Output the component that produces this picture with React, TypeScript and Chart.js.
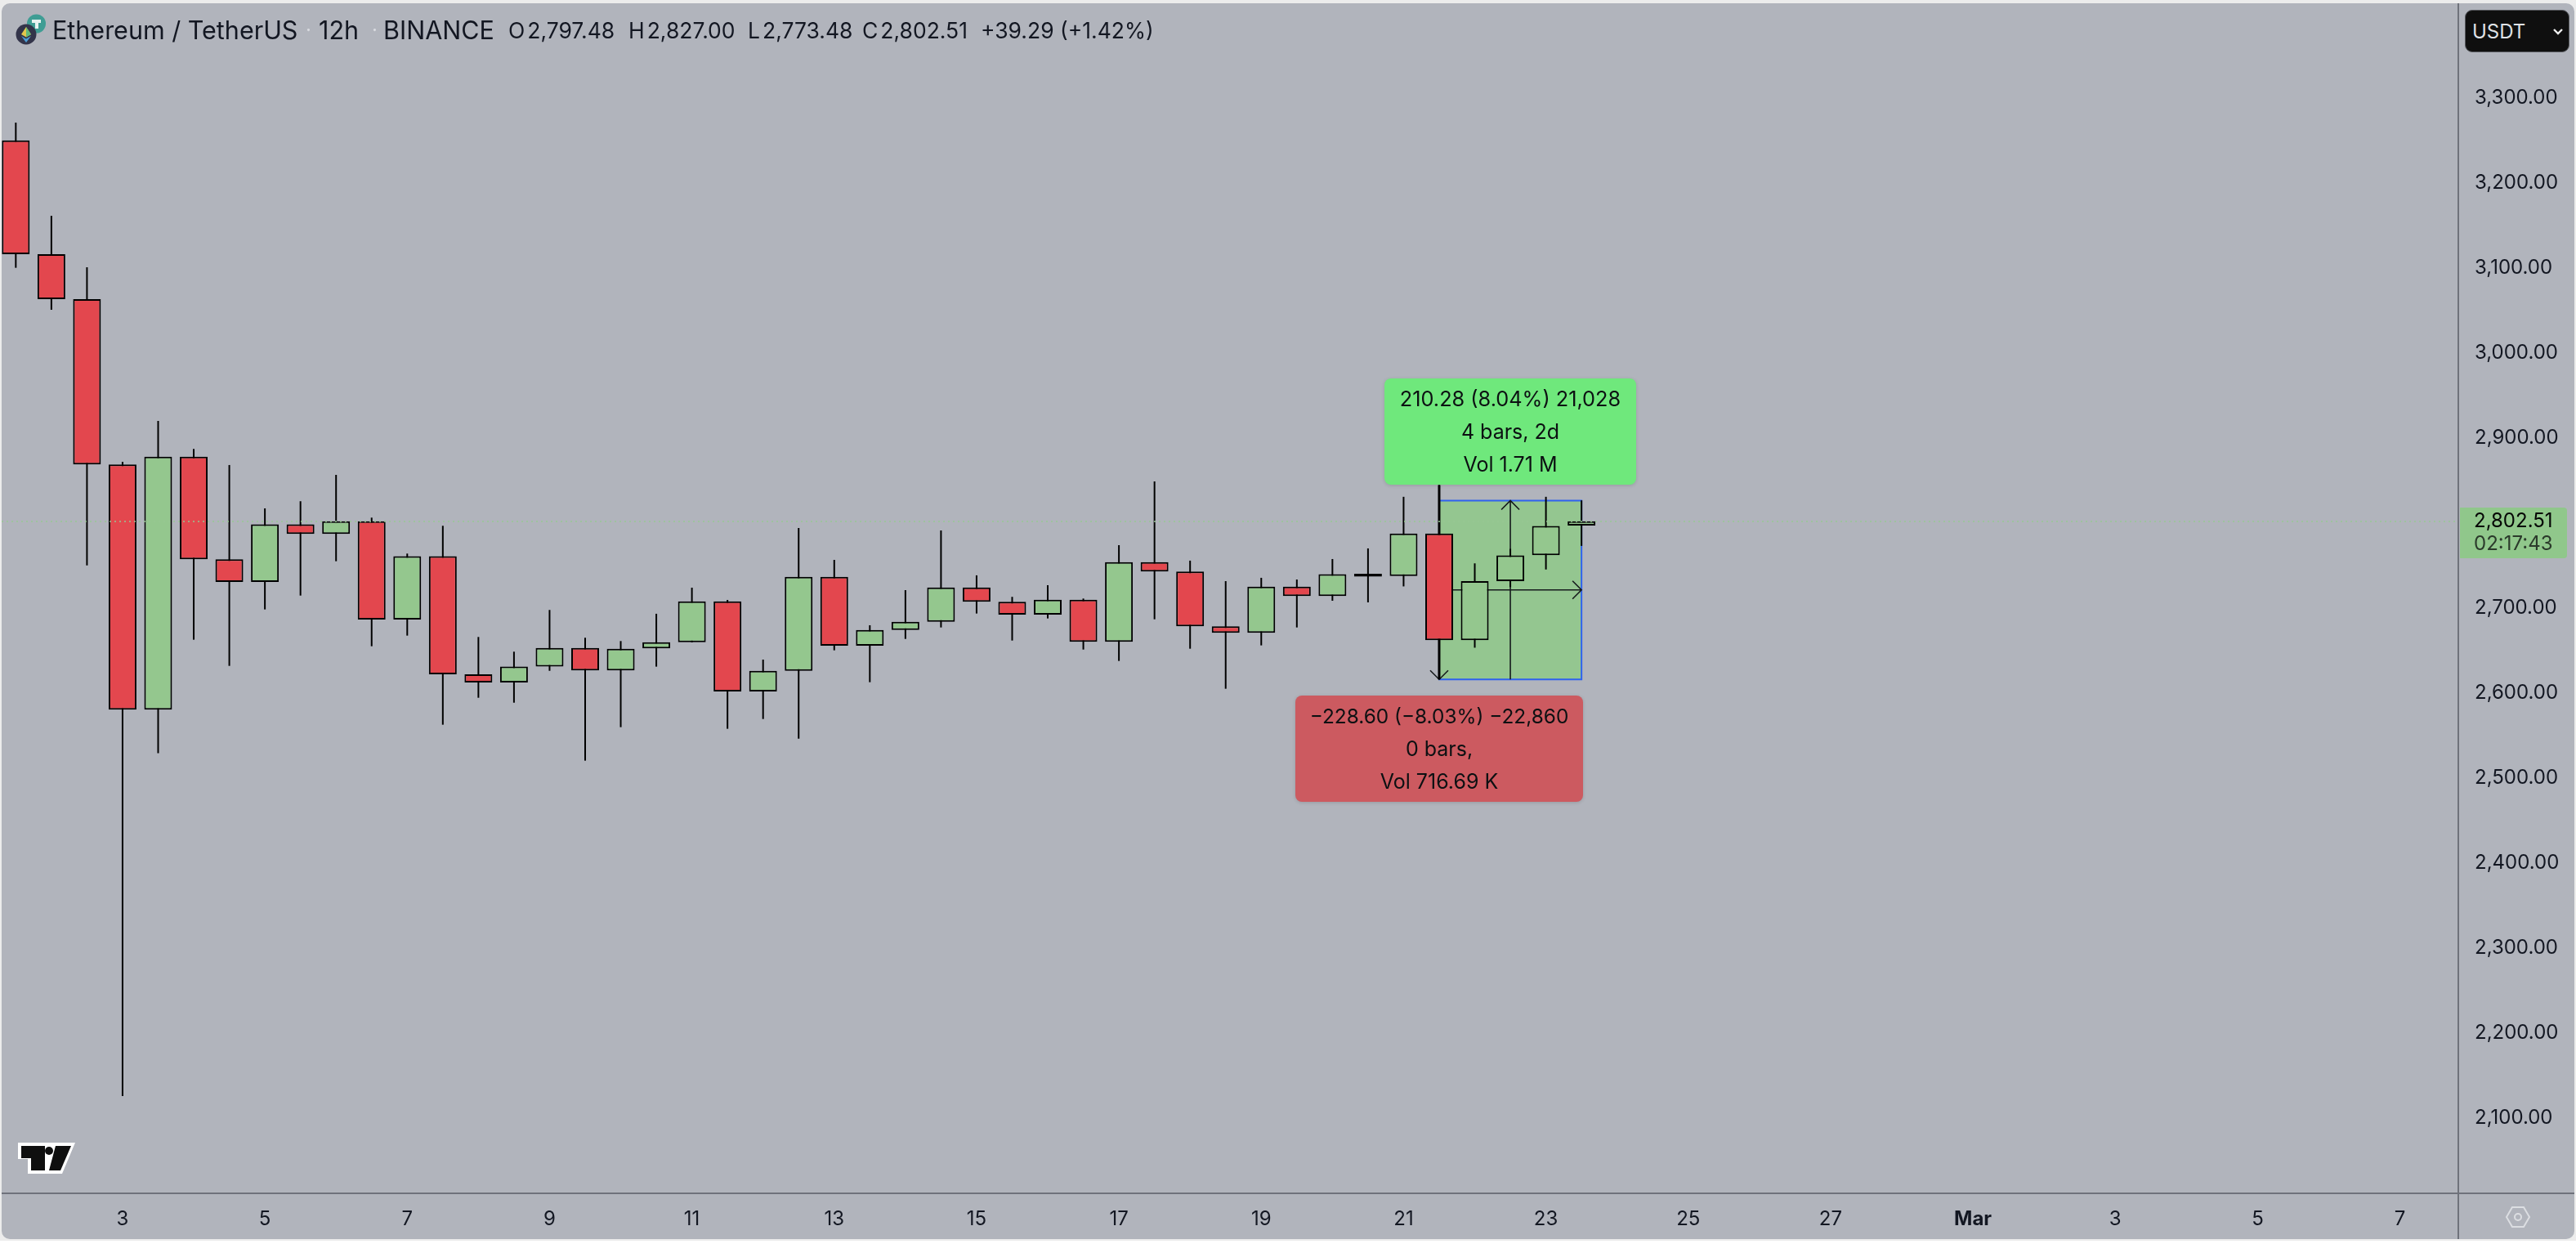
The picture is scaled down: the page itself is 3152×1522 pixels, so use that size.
import React, { useEffect, useRef } from "react";
import { Chart, registerables } from "chart.js";

Chart.register(...registerables);

const opens = [3250.6,3116.6,3063.7,2869.2,2580.8,2878.5,2757.7,2731.1,2798.7,2787.5,2802.5,2686.8,2761.2,2622.4,2612.8,2631.4,2653.5,2626.9,2652.9,2660.2,2708.3,2602.2,2626.5,2737.1,2656.1,2674.6,2684.2,2724.6,2707.7,2692.6,2710.2,2660.6,2754.4,2743.3,2678.9,2671.2,2725.6,2714.4,2740.7,2738.0,2787.9,2662.6,2732.0,2762.5,2797.48];
const closes = [3116.6,3063.7,2869.2,2580.8,2878.5,2757.7,2731.1,2798.7,2787.5,2802.5,2686.8,2761.2,2622.4,2612.8,2631.4,2653.5,2626.9,2652.5,2660.2,2708.3,2602.2,2626.5,2737.1,2656.1,2674.6,2684.2,2724.6,2707.7,2692.6,2710.2,2660.6,2754.4,2743.3,2678.9,2671.2,2725.6,2714.4,2740.2,2737.2,2787.9,2662.6,2732.0,2762.2,2796.8,2802.51];
const highs = [3271.4,3161.8,3101.2,2872.4,2920.5,2887.5,2868.6,2817.6,2826.0,2857.0,2806.7,2764.4,2797.1,2666.3,2649.0,2698.1,2665.4,2661.5,2693.6,2724.3,2709.9,2639.7,2794.5,2757.0,2680.1,2721.4,2791.6,2738.8,2713.5,2727.2,2711.5,2774.3,2849.3,2756.1,2732.0,2735.9,2733.9,2758.0,2770.5,2831.2,2845.0,2752.9,2770.0,2831.2,2827.0];
const lows = [3100.6,3051.2,2750.6,2126.3,2529.5,2663.1,2632.3,2698.7,2715.0,2755.4,2655.4,2667.9,2563.1,2594.8,2589.0,2626.5,2520.8,2560.2,2631.4,2660.0,2558.3,2569.8,2546.7,2650.6,2613.1,2664.0,2677.5,2693.9,2662.1,2688.1,2651.5,2638.1,2687.1,2652.5,2605.4,2656.4,2677.5,2708.9,2707.0,2725.8,2616.4,2653.7,2725.0,2745.7,2773.48];

const priceTicks = [3300,3200,3100,3000,2900,2800,2700,2600,2500,2400,2300,2200,2100];
const dateTickBars = [3,7,11,15,19,23,27,31,35,39,43,47,51,55,59,63,67];
const dateTickLabels = ["3","5","7","9","11","13","15","17","19","21","23","25","27","Mar","3","5","7"];

const lastPrice = 2802.51;
const measureStartBar = 40;
const measureMidBar = 42;
const measureEndBar = 44;
const measureHigh = 2826.7;
const measureLow = 2616.4;
const measureMid = 2721.6;
const measureWickTop = 2845;

const BG = "#b1b4bc";
const RED = "#e3474e";
const GREEN = "#94c78e";
const AXIS = "#6f727b";
const TEXT = "#131722";
const FONT = "Inter, 'Noto Sans', sans-serif";

const noPadding = (axis: any) => {
  axis.paddingTop = 0; axis.paddingBottom = 0; axis.paddingLeft = 0; axis.paddingRight = 0;
};

const overlayPlugin = {
  id: "overlay",
  beforeDatasetsDraw(chart: any) {
    const { ctx, scales } = chart;
    const x = scales.x, y = scales.y;
    const xs = x.getPixelForValue(measureStartBar), xm = x.getPixelForValue(measureMidBar), xe = x.getPixelForValue(measureEndBar);
    const yh = y.getPixelForValue(measureHigh), yl = y.getPixelForValue(measureLow), ym = y.getPixelForValue(measureMid);
    ctx.save();
    ctx.fillStyle = "#94c690";
    ctx.fillRect(xs, yh, xe - xs, yl - yh);
    ctx.strokeStyle = "#2f62ee";
    ctx.lineWidth = 2;
    ctx.beginPath();
    ctx.moveTo(xs, yh); ctx.lineTo(xe, yh); ctx.lineTo(xe, yl); ctx.lineTo(xs - 1, yl);
    ctx.stroke();
    ctx.strokeStyle = "#161a1c";
    ctx.lineWidth = 1.6;
    const head = 11;
    ctx.beginPath();
    ctx.moveTo(xs, ym); ctx.lineTo(xe, ym);
    ctx.moveTo(xe - head, ym - head); ctx.lineTo(xe, ym); ctx.lineTo(xe - head, ym + head);
    ctx.moveTo(xm, yl); ctx.lineTo(xm, yh);
    ctx.moveTo(xm - head, yh + head); ctx.lineTo(xm, yh); ctx.lineTo(xm + head, yh + head);
    ctx.moveTo(xs - head, yl - head); ctx.lineTo(xs, yl); ctx.lineTo(xs + head, yl - head);
    ctx.stroke();
    ctx.strokeStyle = "#000";
    ctx.lineWidth = 3;
    ctx.beginPath();
    ctx.moveTo(xs, y.getPixelForValue(measureWickTop)); ctx.lineTo(xs, yl);
    ctx.stroke();
    ctx.restore();
  },
  afterDatasetsDraw(chart: any) {
    const { ctx, scales, chartArea } = chart;
    const py = Math.round(scales.y.getPixelForValue(lastPrice));
    ctx.save();
    ctx.strokeStyle = "#96c893";
    ctx.lineWidth = 1.6;
    ctx.setLineDash([2, 4]);
    ctx.beginPath();
    ctx.moveTo(chartArea.left, py);
    ctx.lineTo(chartArea.right - 4, py);
    ctx.stroke();
    ctx.setLineDash([]);
    ctx.strokeStyle = AXIS;
    ctx.lineWidth = 2;
    ctx.beginPath();
    ctx.moveTo(chartArea.right, chartArea.top);
    ctx.lineTo(chartArea.right, 1516);
    ctx.moveTo(chartArea.left, chartArea.bottom);
    ctx.lineTo(3150, chartArea.bottom);
    ctx.stroke();
    ctx.restore();
  },
};

const abs = (left: number, top: number, extra: any = {}) => ({
  position: "absolute" as const, left, top, whiteSpace: "nowrap" as const, ...extra,
});

function Txt({ x, cy, size, color = TEXT, children, weight = 400 }: any) {
  return (
    <span style={abs(x, cy - 20, { height: 40, lineHeight: "40px", fontSize: size, color, fontFamily: FONT, fontWeight: weight })}>{children}</span>
  );
}

function Ohlc({ x, letter, value }: any) {
  return (
    <Txt x={x} cy={37} size={26.5}>
      {letter}
      <span style={{ marginLeft: 3 }}>{value}</span>
    </Txt>
  );
}

function Box({ l, t, w, h, bg, lines, sizes }: any) {
  const step = (h - 50) / 2;
  return (
    <div style={abs(l, t, { width: w, height: h, background: bg, borderRadius: 8, boxShadow: "0 1px 4px rgba(0,0,0,.15)" })}>
      {lines.map((s: string, i: number) => (
        <div key={i} style={{ position: "absolute", left: 0, width: w, top: 5 + i * step, height: 40, lineHeight: "40px", textAlign: "center", fontFamily: FONT, fontSize: sizes[i], color: "#0c1012" }}>{s}</div>
      ))}
    </div>
  );
}

export default function App() {
  const ref = useRef<HTMLCanvasElement>(null);
  useEffect(() => {
    document.body.style.margin = "0";
    document.body.style.background = "#fff";
    const chart = new Chart(ref.current as HTMLCanvasElement, {
      type: "bar",
      plugins: [overlayPlugin],
      data: {
        datasets: [
          {
            label: "wick",
            order: 2,
            grouped: false,
            barThickness: 2,
            backgroundColor: "#000",
            borderWidth: 0,
            inflateAmount: 0,
            data: highs.map((h, i) => ({ x: i, y: [lows[i], h] })),
          },
          {
            label: "body",
            order: 1,
            grouped: false,
            barThickness: 34,
            backgroundColor: opens.map((o, i) => (closes[i] >= o ? GREEN : RED)),
            borderColor: "#000",
            borderWidth: 2,
            borderSkipped: false,
            inflateAmount: 0,
            data: opens.map((o, i) => ({ x: i, y: [o, closes[i]] })),
          },
        ] as any,
      },
      options: {
        responsive: false,
        animation: false,
        events: [],
        layout: { padding: { left: 2, top: 4, right: 0, bottom: 0 } },
        plugins: { legend: { display: false }, tooltip: { enabled: false }, title: { display: false } },
        scales: {
          x: {
            type: "linear",
            min: -0.398,
            max: 68.64,
            offset: false,
            grid: { display: false },
            border: { display: false },
            afterBuildTicks: (axis: any) => { axis.ticks = dateTickBars.map((value) => ({ value })); },
            afterFit: (axis: any) => { axis.height = 62; noPadding(axis); },
            ticks: {
              autoSkip: false,
              maxRotation: 0,
              padding: 9,
              color: TEXT,
              font: (c: any) => ({ family: FONT, size: 24, weight: dateTickLabels[dateTickBars.indexOf(c.tick?.value)] === "Mar" ? "bold" : "normal" }),
              callback: (v: any) => dateTickLabels[dateTickBars.indexOf(v)],
            },
          },
          y: {
            type: "linear",
            position: "right",
            min: 2011.8,
            max: 3411.8,
            grid: { display: false },
            border: { display: false },
            afterBuildTicks: (axis: any) => { axis.ticks = priceTicks.map((value) => ({ value })); },
            afterFit: (axis: any) => { axis.width = 144; noPadding(axis); },
            ticks: {
              autoSkip: false,
              padding: 12,
              color: TEXT,
              font: { family: FONT, size: 24 },
              callback: (v: any) => Number(v).toLocaleString("en-US", { minimumFractionDigits: 2, maximumFractionDigits: 2 }),
            },
          },
        },
      } as any,
    });
    return () => chart.destroy();
  }, []);

  return (
    <div style={abs(0, 0, { width: 3152, height: 1522, background: "#fff", overflow: "hidden" })}>
      <div style={abs(0, 0, { width: 3152, height: 1518, background: "#ececec" })} />
      <div style={abs(2, 4, { width: 3148, height: 1512, background: BG, borderRadius: 10 })} />
      <canvas ref={ref} width={3152} height={1522} style={abs(0, 0, { display: "block" })} />

      <svg width={70} height={70} style={abs(10, 10)} viewBox="10 10 70 70">
        <circle cx={44.5} cy={29} r={11.5} fill="#3f9d94" />
        <rect x={39} y={24} width={11} height={4} fill="#e8f3f1" />
        <rect x={43} y={24} width={4} height={11} fill="#e8f3f1" />
        <circle cx={32} cy={42} r={12.5} fill="#33344a" />
        <polygon points="32,33 38,42 32,45.5 26,42" fill="#e2c64c" />
        <polygon points="32,33 38,42 32,45.5" fill="#5fb87a" />
        <polygon points="26,44 32,47.5 38,44 32,52" fill="#4c9fd6" />
      </svg>

      <Txt x={64} cy={37} size={30.5}>Ethereum / TetherUS</Txt>
      <Txt x={374} cy={37} size={24} color="#d9dbe0">·</Txt>
      <Txt x={390} cy={37} size={30.5}>12h</Txt>
      <Txt x={455} cy={37} size={24} color="#d9dbe0">·</Txt>
      <Txt x={469} cy={37} size={30.5}>BINANCE</Txt>
      <Ohlc x={622} letter="O" value="2,797.48" />
      <Ohlc x={769} letter="H" value="2,827.00" />
      <Ohlc x={915} letter="L" value="2,773.48" />
      <Ohlc x={1055} letter="C" value="2,802.51" />
      <Txt x={1200} cy={37} size={26.5}>+39.29 (+1.42%)</Txt>

      <div style={abs(3016, 12, { width: 126, height: 50, background: "#0f0f0f", border: "1px solid #55575c", borderRadius: 9 })}>
        <span style={abs(8, 6, { lineHeight: "40px", fontFamily: FONT, fontSize: 24, color: "#dfe1e5" })}>USDT</span>
        <svg width={14} height={10} style={abs(106, 21)} viewBox="0 0 14 10"><path d="M2 2 L7 7 L12 2" stroke="#eee" strokeWidth={2.4} fill="none" /></svg>
      </div>

      <div style={abs(3010, 621, { width: 131, height: 62, background: "#90c78b", borderRadius: "0 4px 4px 0" })}>
        <div style={{ position: "absolute", left: 17, top: -4, lineHeight: "40px", fontFamily: FONT, fontSize: 24, color: "#050505" }}>2,802.51</div>
        <div style={{ position: "absolute", left: 17, top: 24, lineHeight: "40px", fontFamily: FONT, fontSize: 24, color: "#2b3a2b" }}>02:17:43</div>
      </div>

      <Box l={1694} t={463} w={308} h={130} bg="#6fe87c" sizes={[25.3, 25, 25]} lines={["210.28 (8.04%) 21,028", "4 bars, 2d", "Vol 1.71 M"]} />
      <Box l={1585} t={851} w={352} h={130} bg="#cc5a60" sizes={[24.4, 25, 25]} lines={["−228.60 (−8.03%) −22,860", "0 bars,", "Vol 716.69 K"]} />

      <svg width={3152} height={1522} style={abs(0, 0, { pointerEvents: "none" })}>
        <polygon points="22,1398 92,1398 76,1436 34,1436 34,1418 22,1418" fill="#fff" />
        <polygon points="26,1402 55,1402 55,1432 38,1432 38,1417 26,1417" fill="#0f0f0f" />
        <circle cx={60} cy={1408} r={5} fill="#0f0f0f" />
        <polygon points="68,1402 87,1402 74,1432 60,1432" fill="#0f0f0f" />
        <polygon points="3067,1489 3074,1477 3088,1477 3095,1489 3088,1501 3074,1501" fill="none" stroke="#dcdee2" strokeWidth={2} />
        <circle cx={3081} cy={1489} r={4} fill="none" stroke="#dcdee2" strokeWidth={2} />
      </svg>
    </div>
  );
}
